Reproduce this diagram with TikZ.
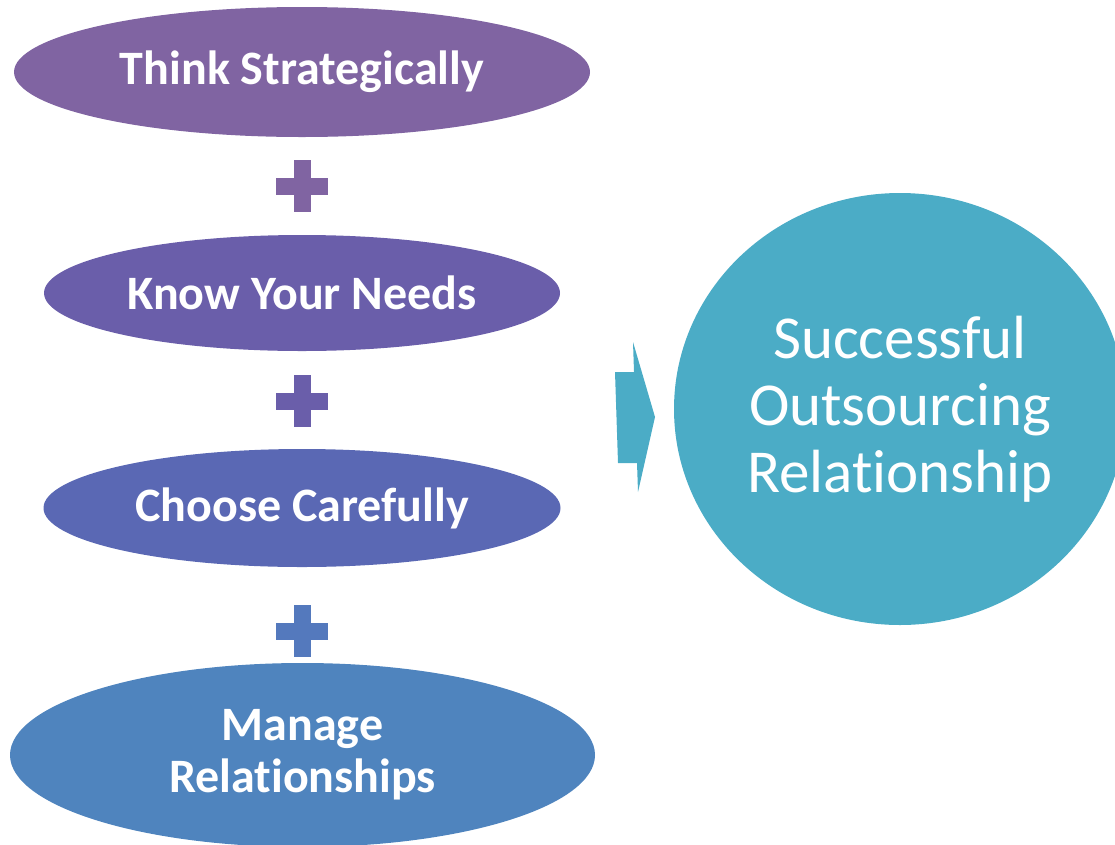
\documentclass[tikz,border=0pt]{standalone}
\usepackage{fontspec}
\setmainfont{Carlito}[RawFeature={-liga;-clig;-calt;-dlig}]
\usetikzlibrary{shapes.geometric,calc}
\definecolor{cA}{HTML}{8064A2}
\definecolor{cB}{HTML}{6A5EAA}
\definecolor{cC}{HTML}{5A68B4}
\definecolor{cD}{HTML}{4F84BE}
\definecolor{cE}{HTML}{4BACC6}
\definecolor{pC}{HTML}{5479BD}
\tikzset{
  stepoval/.style={ellipse, inner sep=0pt, text=white, font=\bfseries\fontsize{48}{52}\selectfont, align=center},
  resultoval/.style={ellipse, inner sep=0pt, fill=cE, text=white, font=\fontsize{61}{67}\selectfont, align=center},
}
\newcommand{\plussign}[2]{%
  \fill[#2] ($(#1)+(-26,-8.5)$) rectangle ($(#1)+(26,8.5)$);
  \fill[#2] ($(#1)+(-8.5,-26)$) rectangle ($(#1)+(8.5,26)$);
}
\begin{document}
\begin{tikzpicture}[x=1pt,y=-1pt]
\useasboundingbox (0,0) rectangle (1115,844);
\clip (0,0) rectangle (1115,844);
\node[stepoval, fill=cA, minimum width=576, minimum height=130] (think) at (302,72) {Think Strategically};
\node[stepoval, fill=cB, minimum width=516, minimum height=116] (know) at (302,293) {Know Your Needs};
\node[stepoval, fill=cC, minimum width=517, minimum height=118] (choose) at (302,508) {Choose Carefully};
\node[stepoval, fill=cD, minimum width=585, minimum height=184] (manage) at (302.5,755) {Manage\\Relationships};
\coordinate (p1) at (302,186);
\coordinate (p2) at (302,401);
\coordinate (p3) at (302,631);
\plussign{p1}{cA}
\plussign{p2}{cB}
\plussign{p3}{pC}
\fill[cE] (615,372) -- (634,372) -- (633,342) -- (655,417) -- (638,492) -- (637,463) -- (618,463) -- cycle;
\node[resultoval, minimum width=452, minimum height=432] (result) at (900,409) {Successful\\Outsourcing\\Relationship};
\end{tikzpicture}
\end{document}
